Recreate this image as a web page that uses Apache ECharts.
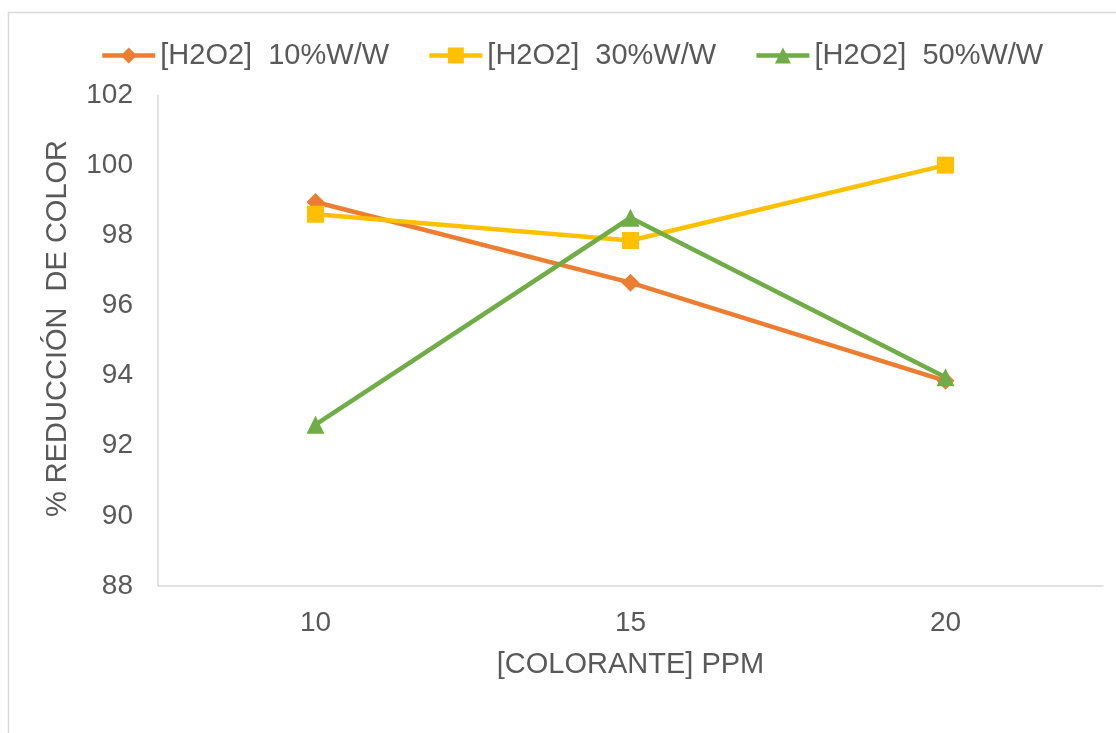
<!DOCTYPE html>
<html>
<head>
<meta charset="utf-8">
<script src="https://cdn.jsdelivr.net/npm/echarts@6/dist/echarts.min.js"></script>
<style>
  html, body { margin: 0; padding: 0; background: #ffffff; }
  #chart { width: 1116px; height: 733px; }
</style>
</head>
<body>
<div id="chart"></div>
<script>
// Dye concentration (ppm) on the category axis
const categories = ['10', '15', '20'];

// % colour reduction for each H2O2 concentration
const series10 = [98.95, 96.65, 93.85];
const series30 = [98.6, 97.85, 100.0];
const series50 = [92.6, 98.5, 93.95];

const seriesNames = ['[H2O2]  10%W/W', '[H2O2]  30%W/W', '[H2O2]  50%W/W'];

// Value axis range
const yMin = 88;
const yMax = 102;
const yStep = 2;

const font = 'Liberation Sans, Arial, sans-serif';
const textColor = '#595959';

const chart = echarts.init(document.getElementById('chart'), null, { renderer: 'canvas' });

function lineSeries(name, data, color, symbol, size) {
  return {
    name: name,
    type: 'line',
    data: data,
    symbol: symbol,
    symbolSize: size,
    lineStyle: { color: color, width: 4.5 },
    itemStyle: { color: color },
    emphasis: { disabled: true },
    z: 3
  };
}

chart.setOption({
  animation: false,
  backgroundColor: '#ffffff',
  textStyle: { fontFamily: font },
  graphic: [{
    type: 'rect',
    shape: { x: 8.5, y: 12.5, width: 1200, height: 800 },
    style: { fill: 'none', stroke: '#d9d9d9', lineWidth: 1.5 },
    silent: true,
    z: -1
  }],
  legend: {
    left: 95,
    top: 36,
    itemWidth: 53,
    itemHeight: 20,
    itemGap: 38,
    lineStyle: { width: 4.5 },
    textStyle: { fontFamily: font, fontSize: 29, color: textColor, padding: [0, 0, 0, 0] },
    data: seriesNames
  },
  grid: {
    left: 158,
    right: 13,
    top: 95,
    bottom: 147,
    containLabel: false
  },
  xAxis: {
    type: 'category',
    data: categories,
    boundaryGap: true,
    axisLine: { show: true, lineStyle: { color: '#d9d9d9', width: 1.5 } },
    axisTick: { show: false },
    axisLabel: { color: textColor, fontSize: 28, fontFamily: font, margin: 23 },
    name: '[COLORANTE] PPM',
    nameLocation: 'middle',
    nameGap: 64,
    nameTextStyle: { color: textColor, fontSize: 29, fontFamily: font }
  },
  yAxis: {
    type: 'value',
    min: yMin,
    max: yMax,
    interval: yStep,
    axisLine: { show: true, lineStyle: { color: '#d9d9d9', width: 1.5 } },
    axisTick: { show: false },
    splitLine: { show: false },
    axisLabel: { color: textColor, fontSize: 28, fontFamily: font, margin: 25 },
    name: '% REDUCCIÓN  DE COLOR',
    nameLocation: 'middle',
    nameGap: 86,
    nameRotate: 90,
    nameTextStyle: { color: textColor, fontSize: 29, fontFamily: font, padding: [0, 0, 0, 24] }
  },
  series: [
    lineSeries(seriesNames[0], series10, '#ED7D31', 'diamond', 18),
    lineSeries(seriesNames[1], series30, '#FFC000', 'rect', 17),
    lineSeries(seriesNames[2], series50, '#70AD47', 'triangle', 18)
  ]
});
</script>
</body>
</html>
